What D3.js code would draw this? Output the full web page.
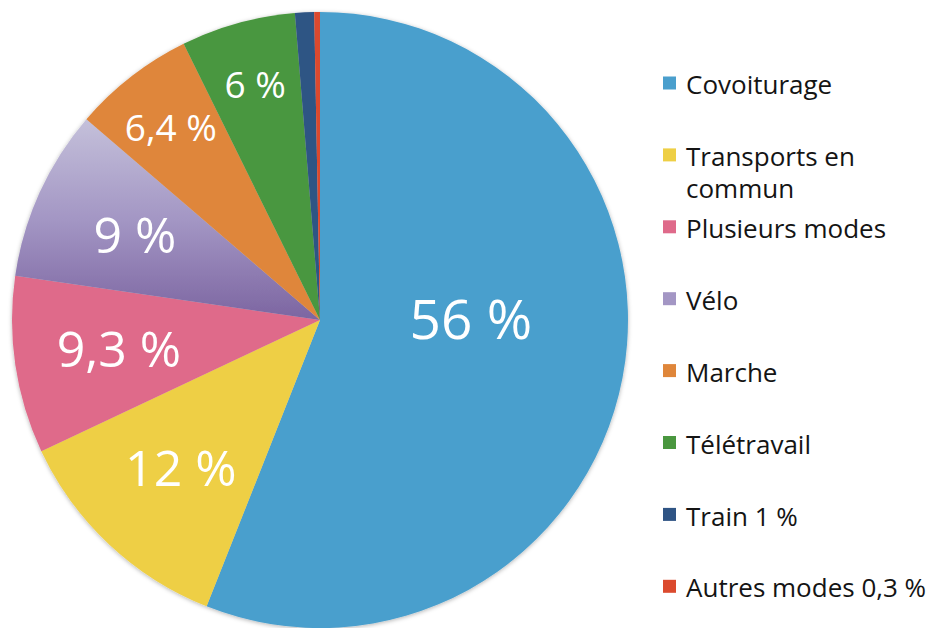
<!DOCTYPE html>
<html>
<head>
<meta charset="utf-8">
<script src="https://cdn.jsdelivr.net/npm/d3@7"></script>
<style>
  body { margin: 0; background: #fff; }
  svg { display: block; font-family: "Open Sans", sans-serif; }
</style>
</head>
<body>
<div id="chart"></div>
<script>
// data
var categories = ['Covoiturage', 'Transports en commun', 'Plusieurs modes', 'Vélo',
                  'Marche', 'Télétravail', 'Train 1 %', 'Autres modes 0,3 %'];
var values = [56, 12, 9.3, 9, 6.4, 6, 1, 0.3];
var colors = ['#4a9fcd', '#eecf45', '#df6a8a', '#a396c4', '#df863a', '#4a973f', '#2f5484', '#db4a2e'];

var width = 944, height = 628;
var cx = 320, cy = 320, radius = 308;

var svg = d3.select('#chart')
    .append('svg')
    .attr('width', width)
    .attr('height', height);

var defs = svg.append('defs');

// soft shadow round the pie
var shadow = defs.append('filter')
    .attr('id', 'shadow')
    .attr('x', '-5%').attr('y', '-5%')
    .attr('width', '110%').attr('height', '110%');
shadow.append('feDropShadow')
    .attr('dx', 0).attr('dy', 1)
    .attr('stdDeviation', 2)
    .attr('flood-color', '#000')
    .attr('flood-opacity', 0.3);

// Vélo slice is shaded top to bottom (coords are in the pie group's space)
var velo = defs.append('linearGradient')
    .attr('id', 'veloGrad')
    .attr('gradientUnits', 'userSpaceOnUse')
    .attr('x1', 0).attr('x2', 0)
    .attr('y1', -radius * 0.65).attr('y2', 0);
velo.append('stop').attr('offset', '0%').attr('stop-color', '#c4c0da');
velo.append('stop').attr('offset', '50%').attr('stop-color', '#a396c4');
velo.append('stop').attr('offset', '100%').attr('stop-color', '#7c65a1');

//////////
// PIE //
//////////

var pie = d3.pie()
    .sort(null)
    .value(function(d) { return d; });

var arcs = pie(values);

var arc = d3.arc()
    .innerRadius(0)
    .outerRadius(radius);

var g = svg.append('g')
    .attr('transform', 'translate(' + cx + ',' + cy + ')');

g.append('g')
    .attr('filter', 'url(#shadow)')
    .selectAll('path')
    .data(arcs)
    .enter()
    .append('path')
    .attr('d', arc)
    .attr('fill', function(d, i) {
        return categories[i] === 'Vélo' ? 'url(#veloGrad)' : colors[i];
    });

// slice labels, french decimal comma
var fmt = function(v) { return String(v).replace('.', ',') + ' %'; };

var labelPos = function(d) {
    var big = d.endAngle - d.startAngle > Math.PI;
    var a = big ? Math.PI / 2 : (d.startAngle + d.endAngle) / 2;
    var k = big ? 0.49 : (d.data >= 9 ? 0.66 : 0.79);
    return [Math.sin(a) * radius * k, -Math.cos(a) * radius * k];
};

var labelSize = function(v) {
    if (v > 50) return 55;
    if (v >= 9) return 50;
    return 37;
};

g.selectAll('text.slice')
    .data(arcs.filter(function(d) { return d.data >= 5; }))
    .enter()
    .append('text')
    .attr('class', 'slice')
    .attr('transform', function(d) { return 'translate(' + labelPos(d) + ')'; })
    .attr('text-anchor', 'middle')
    .attr('dy', '0.35em')
    .style('font-size', function(d) { return labelSize(d.data) + 'px'; })
    .style('fill', '#fff')
    .text(function(d) { return fmt(d.data); });

//////////
// LEGEND //
//////////

var legendX = 663, legendTop = 85, rowStep = 71.9, box = 13, lineH = 32;
var maxW = width - (legendX + 23) - 2;

var legend = svg.append('g');

categories.forEach(function(name, i) {
    var y = legendTop + i * rowStep;
    legend.append('rect')
        .attr('x', legendX)
        .attr('y', y - box / 2 - 2)
        .attr('width', box)
        .attr('height', box)
        .attr('fill', colors[i]);

    var t = legend.append('text')
        .attr('x', legendX + 23)
        .attr('y', y)
        .attr('dy', '0.35em')
        .style('font-size', '26px')
        .style('fill', '#141414');

    // wrap words when the label is too wide
    var words = name.split(' ');
    var line = [];
    var tspan = t.append('tspan').attr('x', legendX + 23);
    words.forEach(function(w) {
        line.push(w);
        tspan.text(line.join(' '));
        if (tspan.node().getComputedTextLength() > maxW && line.length > 1) {
            line.pop();
            tspan.text(line.join(' '));
            line = [w];
            tspan = t.append('tspan')
                .attr('x', legendX + 23)
                .attr('dy', lineH)
                .text(w);
        }
    });
});
</script>
</body>
</html>
